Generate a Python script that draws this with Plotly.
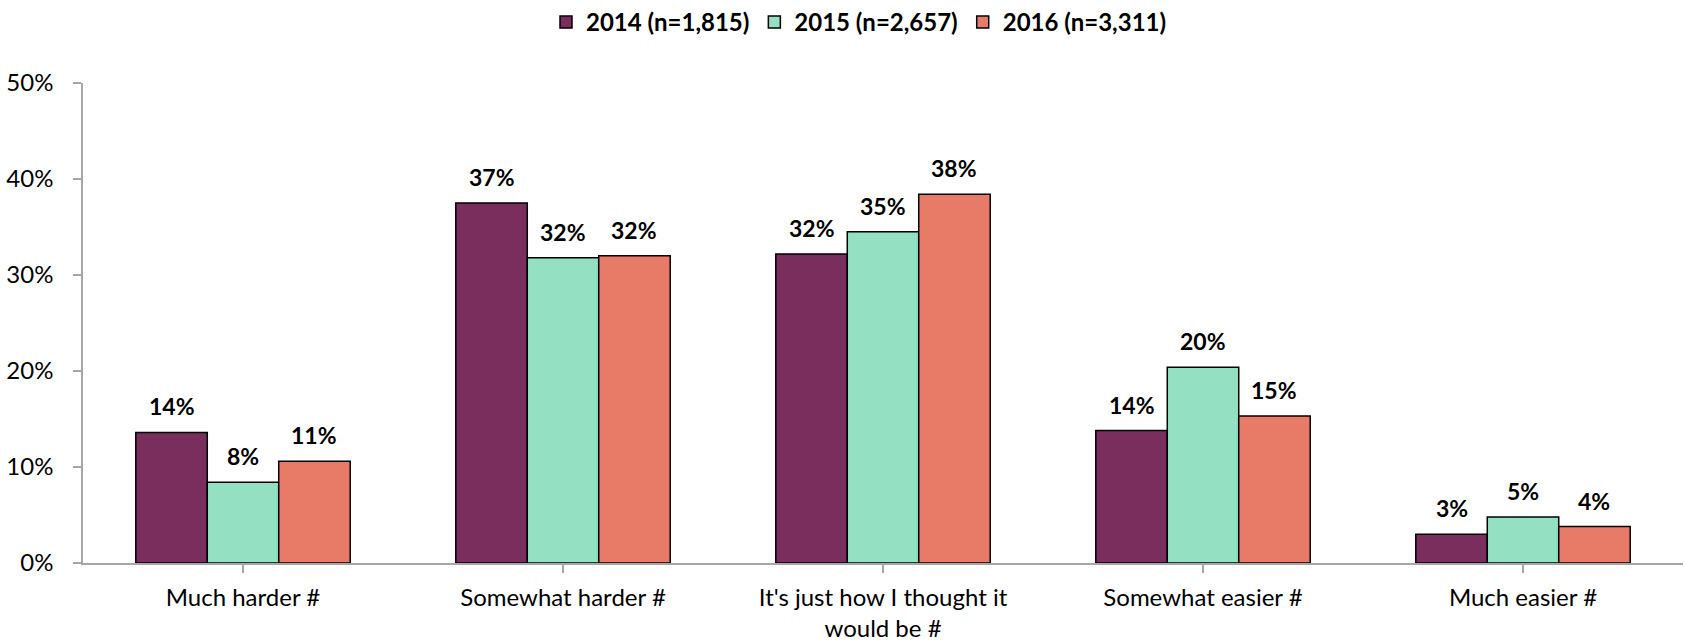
import plotly.graph_objects as go

categories = ["Much harder #", "Somewhat harder #", "It's just how I thought it<br>would be #",
              "Somewhat easier #", "Much easier #"]
series_names = ["2014 (n=1,815)", "2015 (n=2,657)", "2016 (n=3,311)"]
values_2014 = [13.6, 37.5, 32.2, 13.8, 3.0]
values_2015 = [8.4, 31.8, 34.5, 20.4, 4.8]
values_2016 = [10.6, 32.0, 38.4, 15.3, 3.8]
labels_2014 = ["14%", "37%", "32%", "14%", "3%"]
labels_2015 = ["8%", "32%", "35%", "20%", "5%"]
labels_2016 = ["11%", "32%", "38%", "15%", "4%"]
colors = ["#792E5E", "#94E0C2", "#E87B68"]

all_vals = [values_2014, values_2015, values_2016]
all_labels = [labels_2014, labels_2015, labels_2016]

FONT = "Lato, 'Open Sans', sans-serif"

fig = go.Figure()
for name, vals, col in zip(series_names, all_vals, colors):
    fig.add_trace(go.Bar(
        name=name, x=list(range(len(categories))), y=vals,
        marker=dict(color=col, line=dict(color="#000000", width=1.5)),
        hoverinfo="skip",
    ))

bargap = 0.33
group_w = 1 - bargap
bar_w = group_w / 3
annotations = []
for j, (vals, labs) in enumerate(zip(all_vals, all_labels)):
    for i, (v, lab) in enumerate(zip(vals, labs)):
        annotations.append(dict(
            x=i + (j - 1) * bar_w, y=v, xref="x", yref="y",
            text="<b>" + lab + "</b>", showarrow=False,
            yanchor="bottom", yshift=10,
            font=dict(family=FONT, size=23, color="#000000"),
        ))

fig.update_layout(
    width=1686, height=643,
    paper_bgcolor="white", plot_bgcolor="white",
    margin=dict(l=83, r=3, t=83, b=80),
    barmode="group", bargap=bargap, bargroupgap=0,
    font=dict(family=FONT, size=24, color="#000000"),
    showlegend=True,
    legend=dict(orientation="h", x=0.485, xanchor="center", y=1.0, yref="container",
                yanchor="top", font=dict(family=FONT, size=24, color="#000000", weight="bold"),
                itemwidth=30, traceorder="normal"),
    annotations=annotations,
    xaxis=dict(
        tickmode="array", tickvals=list(range(len(categories))), ticktext=categories,
        range=[-0.5, 4.5], showline=True, linecolor="#A6A6A6", linewidth=1.5,
        ticks="outside", tickson="boundaries", ticklen=8, tickcolor="#A6A6A6", tickwidth=1.5,
        showgrid=False, zeroline=False, ticklabelstandoff=4, automargin=False,
        tickfont=dict(family=FONT, size=24, color="#000000"),
    ),
    yaxis=dict(
        range=[0, 50], dtick=10, ticksuffix="%", showline=True, linecolor="#A6A6A6",
        linewidth=1.5, ticks="outside", ticklen=8, tickcolor="#A6A6A6", tickwidth=1.5,
        showgrid=False, zeroline=False, ticklabelstandoff=15, automargin=False,
        tickfont=dict(family=FONT, size=24, color="#000000"),
    ),
)

fig.write_html("out.html", config={"displayModeBar": False},
               post_script="document.body.style.margin='0';")
